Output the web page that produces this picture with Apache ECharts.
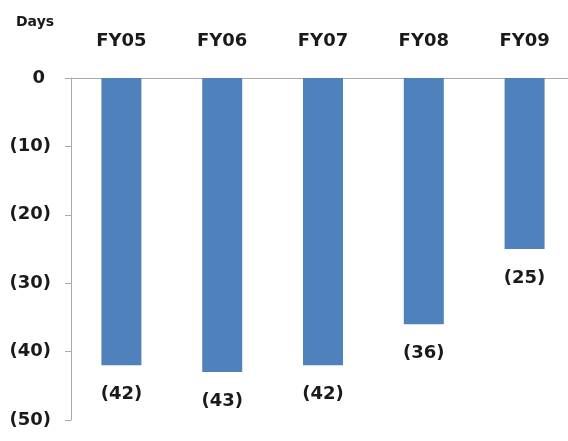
<!DOCTYPE html>
<html>
<head>
<meta charset="utf-8">
<script src="https://cdn.jsdelivr.net/npm/echarts@6/dist/echarts.min.js"></script>
<style>
html,body{margin:0;padding:0;background:#fff;overflow:hidden;}
#c{width:576px;height:441px;}
</style>
</head>
<body>
<div id="c"></div>
<script>
const categories = ['FY05', 'FY06', 'FY07', 'FY08', 'FY09'];
const days = [-42, -43, -42, -36, -25];
const axisTitle = 'Days';

function fmt(v) {
  return v === 0 ? '0' : '(' + Math.abs(v) + ')';
}

const chart = echarts.init(document.getElementById('c'), null, {renderer: 'canvas'});
const font = '"DejaVu Sans", sans-serif';
const txt = {fontFamily: font, fontSize: 18, fontWeight: 'bold', color: '#1a1a1a'};
chart.setOption({
  animation: false,
  backgroundColor: '#fff',
  title: {
    text: axisTitle,
    left: 11,
    top: 10,
    textStyle: {fontFamily: font, fontSize: 14, fontWeight: 'bold', color: '#1a1a1a'}
  },
  grid: {left: 71, top: 78, right: 1, height: 342},
  xAxis: {
    type: 'category',
    position: 'top',
    data: categories,
    axisLine: {lineStyle: {color: '#aaa', width: 1}},
    axisTick: {show: false},
    axisLabel: Object.assign({margin: 28}, txt)
  },
  yAxis: {
    type: 'value',
    min: -50,
    max: 0,
    interval: 10,
    axisLine: {show: true, lineStyle: {color: '#aaa', width: 1}},
    axisTick: {show: true, length: 6, lineStyle: {color: '#aaa'}},
    splitLine: {show: false},
    axisLabel: Object.assign({
      margin: 20,
      formatter: v => v === 0 ? '{z|0}' : '{n|' + fmt(v) + '}',
      rich: {
        z: Object.assign({padding: [0, 6, 0, 0]}, txt),
        n: Object.assign({}, txt)
      }
    }, txt)
  },
  series: [{
    type: 'bar',
    data: days,
    barWidth: 40,
    itemStyle: {color: '#4F81BD'},
    label: Object.assign({
      show: true,
      position: 'bottom',
      distance: 20,
      formatter: p => fmt(p.value)
    }, txt)
  }]
});
</script>
</body>
</html>
